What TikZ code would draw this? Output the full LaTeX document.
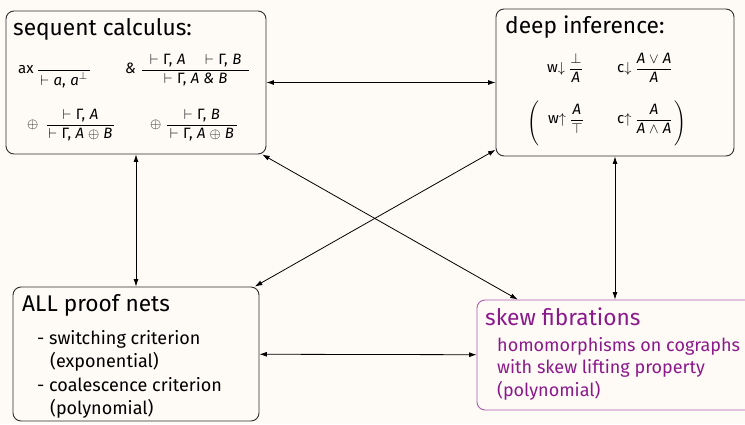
\documentclass[tikz,border=0pt]{standalone}
\usepackage{fontspec}
\setmainfont{Fira Sans}
\usepackage{amsmath,amssymb}
\usetikzlibrary{arrows.meta}
\definecolor{bg}{RGB}{254,251,246}
\definecolor{skewtxt}{RGB}{140,25,140}
\definecolor{skewline}{RGB}{172,92,176}
\definecolor{boxline}{RGB}{45,45,45}
\newcommand{\ttl}{\fontsize{22.7}{26}\selectfont}
\newcommand{\bdy}{\fontsize{18}{21}\selectfont}
\newcommand{\mth}{\fontsize{15}{17}\selectfont}
\newcommand{\rl}[2]{$\dfrac{\text{#1}}{\text{#2}}$}
\newcommand{\rlw}[3]{$\dfrac{\text{\makebox[#1]{#2}}}{\text{\makebox[#1]{#3}}}$}
\newcommand{\sq}[1]{$\vdash$\hspace{0.3em}Γ,\hspace{0.3em}#1}
\begin{document}
\begin{tikzpicture}[x=1pt,y=-1pt,
  box/.style={draw=boxline,line width=0.9pt,rounded corners=8pt,fill=bg,inner sep=0pt},
  skewbox/.style={box,draw=skewline},
  conn/.style={{Latex[length=7.5pt,width=5pt]}-{Latex[length=7.5pt,width=5pt]},line width=0.8pt,black},
  lbl/.style={anchor=base west,inner sep=0pt},
  ttlt/.style={lbl,font=\ttl},
  bdyt/.style={lbl,font=\bdy},
  rule/.style={lbl,font=\mth}]
\fill[bg] (0,0) rectangle (745,424);
\useasboundingbox (0,0) rectangle (745,424);
\clip (0,0) rectangle (745,424);
% boxes
\node[box,minimum width=260pt,minimum height=143pt] (seq) at (136,82.5) {};
\node[box,minimum width=238pt,minimum height=147pt] (deep) at (615,82.5) {};
\node[box,minimum width=246pt,minimum height=134pt] (all) at (136,354) {};
\node[skewbox,minimum width=276pt,minimum height=110pt] (skew) at (615,355) {};
% connectors
\draw[conn] (seq) -- (deep);
\draw[conn] (seq) -- (all);
\draw[conn] (deep) -- (skew);
\draw[conn] (all) -- (skew);
\draw[conn] (seq) -- (skew);
\draw[conn] (deep) -- (all);
% sequent calculus
\node[ttlt] (seqt) at (13,35) {sequent calculus:};
\node[rule] (r1) at (18,73.8) {ax\hspace{3.5pt}\rlw{51.6pt}{}{$\vdash$\hspace{0.3em}\textit{a},\hspace{0.3em}\textit{a}$^{\perp}$}};
\node[rule] (r2) at (125,73.8) {\textit{\&}\hspace{5pt}\rlw{106.6pt}{\sq{\textit{A}}\hspace{1.3em}\sq{\textit{B}}}{\sq{\textit{A} \textit{\&} \textit{B}}}};
\node[rule] (r3) at (27,128.8) {$\oplus$\hspace{7pt}\rlw{67.6pt}{\sq{\textit{A}}}{\sq{\textit{A} $\oplus$ \textit{B}}}};
\node[rule] (r4) at (150,128.8) {$\oplus$\hspace{4pt}\rlw{70.6pt}{\sq{\textit{B}}}{\sq{\textit{A} $\oplus$ \textit{B}}}};
% deep inference
\node[ttlt] (deept) at (505,33) {deep inference:};
\node[rule] (d1) at (547,72.8) {w$\downarrow$~\rl{$\bot$}{\textit{A}}};
\node[rule] (d2) at (617,72.8) {c$\downarrow$~\rl{\textit{A} $\vee$ \textit{A}}{\textit{A}}};
\node[rule] (d3) at (548,123.8) {w$\uparrow$~\rl{\textit{A}}{$\top$}};
\node[rule] (d4) at (617,123.8) {c$\uparrow$~\rl{\textit{A}}{\textit{A} $\wedge$ \textit{A}}};
\node[inner sep=0pt,font=\mth] (lp) at (534,123.5) {$\left(\vcenter{\hbox{\rule{0pt}{46pt}}}\right.$};
\node[inner sep=0pt,font=\mth] (rp) at (680,123.5) {$\left.\vcenter{\hbox{\rule{0pt}{46pt}}}\right)$};
% ALL proof nets
\node[ttlt] (allt) at (22,311.5) {ALL proof nets};
\node[bdyt] (a1) at (37,344) {- switching criterion};
\node[bdyt] (a2) at (50,367.5) {(exponential)};
\node[bdyt] (a3) at (37,391) {- coalescence criterion};
\node[bdyt] (a4) at (50,414.5) {(polynomial)};
% skew fibrations
\node[ttlt,text=skewtxt] (skt) at (485,325) {skew fibrations};
\node[bdyt,text=skewtxt] (s1) at (497,351) {homomorphisms on cographs};
\node[bdyt,text=skewtxt] (s2) at (497,373.5) {with skew lifting property};
\node[bdyt,text=skewtxt] (s3) at (497,396) {(polynomial)};
\end{tikzpicture}
\end{document}
